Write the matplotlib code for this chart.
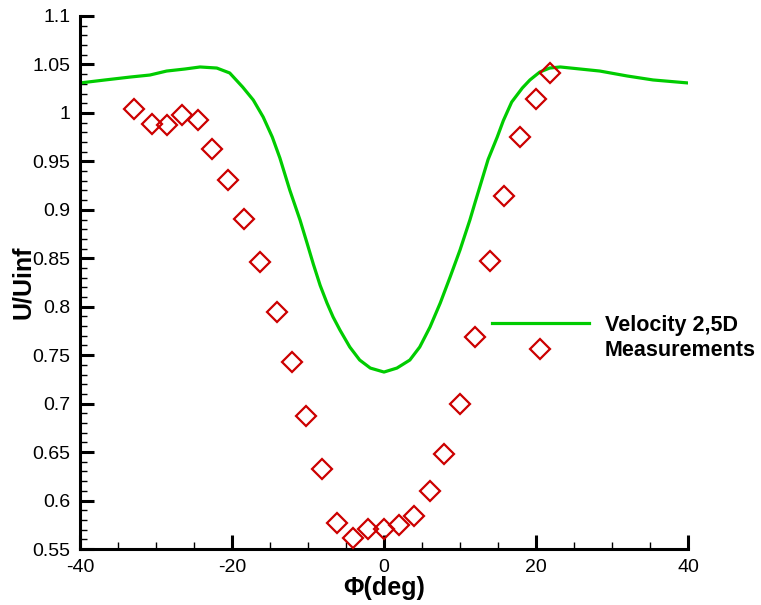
import matplotlib
matplotlib.use("Agg")
import matplotlib.pyplot as plt
from matplotlib.ticker import MultipleLocator, FuncFormatter

# Computed velocity profile (2.5D simulation)
phi_sim = [-40.0, -36.7, -33.4, -30.8, -28.6, -26.2, -24.2, -22.0, -20.3, -18.6,
           -17.2, -15.9, -14.7, -13.7, -12.4, -11.05, -10.1, -9.3, -8.4, -7.5,
           -6.7, -5.8, -4.5, -3.2, -1.8, 0.0, 1.7, 3.4, 4.7, 6.05,
           7.4, 8.7, 10.0, 11.3, 12.0, 13.7, 14.9, 15.7, 16.8, 18.2,
           19.2, 20.5, 21.8, 23.2, 28.4, 32.0, 35.4, 40.0]
u_sim = [1.0309, 1.0340, 1.0370, 1.0391, 1.0432, 1.0453, 1.0474, 1.0463, 1.0412, 1.0267,
         1.0133, 0.9958, 0.9751, 0.9535, 0.9204, 0.8895, 0.8650, 0.8440, 0.8220, 0.8038,
         0.7894, 0.7760, 0.7584, 0.7450, 0.7367, 0.7326, 0.7367, 0.7450, 0.7584, 0.7790,
         0.8038, 0.8307, 0.8585, 0.8895, 0.9080, 0.9520, 0.9751, 0.9920, 1.0112, 1.0257,
         1.0340, 1.0422, 1.0463, 1.0474, 1.0432, 1.0381, 1.0340, 1.0309]

# Measured velocity ratio
phi_meas = [-32.9, -30.5, -28.6, -26.6, -24.5, -22.6, -20.5, -18.4, -16.3, -14.1,
            -12.1, -10.3, -8.2, -6.2, -4.1, -2.1, 0.0, 2.0, 3.9, 6.0,
            7.9, 10.0, 12.0, 13.9, 15.8, 17.9, 20.0, 21.8]
u_meas = [1.0040, 0.9885, 0.9875, 0.9980, 0.9927, 0.9627, 0.9308, 0.8905, 0.8460, 0.7945,
          0.7430, 0.6872, 0.6325, 0.5768, 0.5613, 0.5706, 0.5706, 0.5747, 0.5840, 0.6098,
          0.6480, 0.6996, 0.7688, 0.8472, 0.9142, 0.9751, 1.0143, 1.0412]

x_major = [-40, -20, 0, 20, 40]

plt.rcParams["font.family"] = ["Liberation Sans", "DejaVu Sans"]
plt.rcParams["axes.unicode_minus"] = False

fig = plt.figure(figsize=(7.61, 6.05), dpi=100)
ax = fig.add_axes([80 / 761, 1 - 549 / 605, 608 / 761, 533 / 605])

ax.plot(phi_sim, u_sim, color="#00cc00", lw=2.3, label="Velocity 2,5D", zorder=2)
ax.plot(phi_meas, u_meas, ls="none", marker="D", ms=10, mew=1.6,
        mfc="none", mec="#cc0000", label="Measurements", zorder=3)

ax.set_xlim(-40, 40)
ax.set_ylim(0.55, 1.1)
ax.set_xticks(x_major)
ax.xaxis.set_minor_locator(MultipleLocator(5))
ax.yaxis.set_major_locator(MultipleLocator(0.05))
ax.yaxis.set_minor_locator(MultipleLocator(0.01))
ax.yaxis.set_major_formatter(FuncFormatter(lambda v, p: f"{v:.2f}".rstrip("0").rstrip(".")))

for s in ("top", "right"):
    ax.spines[s].set_visible(False)
for s in ("left", "bottom"):
    ax.spines[s].set_linewidth(2.2)

ax.tick_params(which="major", direction="in", length=10, width=2.2,
               labelsize=14, pad=7)
ax.tick_params(which="minor", direction="in", length=5, width=1.0)

ax.set_xlabel("Φ(deg)", fontsize=18, fontweight="bold", labelpad=0)
ax.set_ylabel("U/Uinf", fontsize=18, fontweight="bold", labelpad=-2)

leg = ax.legend(loc="upper left", bbox_to_anchor=(492 / 761, 1 - 315 / 605),
                bbox_transform=fig.transFigure, frameon=False, borderpad=0,
                borderaxespad=0, handlelength=4.5, handletextpad=0.75,
                labelspacing=0.2, numpoints=1,
                prop={"size": 15.5, "weight": "bold"})

fig.savefig("out.png", dpi=100)
